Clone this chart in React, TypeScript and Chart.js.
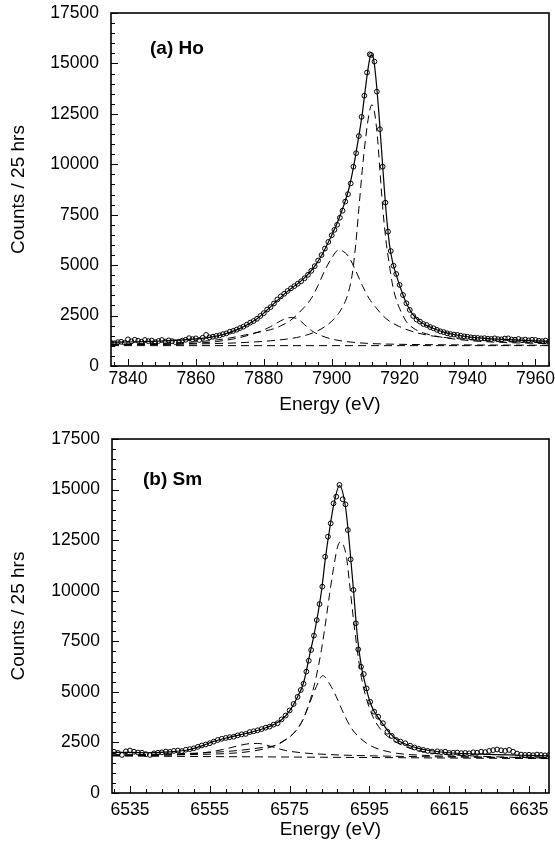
import React, { useEffect, useRef } from "react";
import { Chart, registerables } from "chart.js";

Chart.register(...registerables);

const FONT = '"Liberation Sans", Arial, Helvetica, sans-serif';

type Pt = [number, number];

// ---------- Panel (a) Ho ----------
const hoXTicks = [7840, 7860, 7880, 7900, 7920, 7940, 7960];
const yTicks = [0, 2500, 5000, 7500, 10000, 12500, 15000, 17500];

const hoData: Pt[] = [
  [7835, 1150], [7836, 1125], [7837, 1180], [7838, 1200], [7839, 1150], [7840, 1320],
  [7841, 1220], [7842, 1300], [7843, 1250], [7844, 1200], [7845, 1290], [7846, 1230],
  [7847, 1260], [7848, 1180], [7849, 1240], [7850, 1290], [7851, 1210], [7852, 1270],
  [7853, 1230], [7854, 1180], [7855, 1200], [7856, 1260], [7857, 1300], [7858, 1380],
  [7859, 1330], [7860, 1370], [7861, 1290], [7862, 1400], [7863, 1540], [7864, 1420],
  [7865, 1450], [7866, 1490], [7867, 1520], [7868, 1580], [7869, 1620], [7870, 1700],
  [7871, 1740], [7872, 1800], [7873, 1880], [7874, 1950], [7875, 2050], [7876, 2150],
  [7877, 2230], [7878, 2340], [7879, 2480], [7880, 2620], [7881, 2800], [7882, 2920],
  [7883, 3100], [7884, 3300], [7885, 3450], [7886, 3580], [7887, 3720], [7888, 3850],
  [7889, 3960], [7890, 4080], [7891, 4200], [7892, 4350], [7893, 4520], [7894, 4720],
  [7895, 4950], [7896, 5230], [7897, 5500], [7898, 5820], [7899, 6150], [7900, 6480],
  [7900.8, 6750], [7901.6, 7000], [7902.4, 7350], [7903.2, 7700], [7904, 8150],
  [7904.8, 8520], [7905.6, 9050], [7906.4, 9880], [7907.2, 10550], [7908, 11400],
  [7908.8, 12350], [7909.6, 13400], [7910.4, 14550], [7911.2, 15450], [7911.6, 15420],
  [7912.6, 15090], [7913.3, 13600], [7914.2, 11740], [7915, 9880], [7915.8, 8100],
  [7916.6, 6660], [7917.4, 5700], [7918.2, 4970], [7919, 4560], [7920, 4020],
  [7921, 3520], [7922, 3110], [7923, 2780], [7924, 2480], [7925, 2300], [7926, 2200],
  [7927, 2080], [7928, 2030], [7929, 1930], [7930, 1870], [7931, 1790], [7932, 1720],
  [7933, 1680], [7934, 1620], [7935, 1580], [7936, 1560], [7937, 1540], [7938, 1500],
  [7939, 1470], [7940, 1450], [7941, 1420], [7942, 1400], [7943, 1390], [7944, 1370],
  [7945, 1380], [7946, 1350], [7947, 1340], [7948, 1370], [7949, 1330], [7950, 1320],
  [7951, 1360], [7952, 1370], [7953, 1310], [7954, 1300], [7955, 1340], [7956, 1280],
  [7957, 1310], [7958, 1270], [7959, 1300], [7960, 1290], [7961, 1250], [7962, 1230],
  [7963, 1260], [7964, 1200],
];

const hoFit: Pt[] = [
  [7835, 1180], [7840, 1190], [7845, 1210], [7850, 1240], [7855, 1280], [7860, 1340],
  [7864, 1420], [7868, 1560], [7872, 1790], [7875, 2030], [7878, 2340], [7881, 2780],
  [7884, 3250], [7887, 3700], [7889, 3960], [7891, 4220], [7893, 4540], [7895, 4950],
  [7897, 5480], [7899, 6130], [7900, 6480], [7901, 6850], [7902, 7250], [7903, 7700],
  [7904, 8180], [7905, 8750], [7906, 9500], [7907, 10400], [7908, 11400], [7909, 12500],
  [7910, 13850], [7911, 15050], [7911.6, 15420], [7912.3, 15250], [7913, 14300],
  [7914, 12300], [7915, 9950], [7916, 7700], [7917, 6050], [7918, 5100], [7919, 4520],
  [7920, 4000], [7921, 3520], [7922, 3110], [7923, 2790], [7924, 2530], [7926, 2200],
  [7928, 2000], [7930, 1860], [7933, 1680], [7936, 1560], [7940, 1450], [7945, 1370],
  [7950, 1320], [7955, 1280], [7960, 1250], [7964, 1230],
];

const hoPeakA: Pt[] = [
  [7835, 1060], [7850, 1075], [7865, 1110], [7875, 1170], [7882, 1250], [7887, 1340],
  [7891, 1460], [7895, 1680], [7898, 1950], [7900, 2220], [7902, 2600], [7904, 3200],
  [7905, 3700], [7906, 4500], [7907, 5900], [7908, 7800], [7909, 9700], [7910, 11300],
  [7911, 12500], [7911.8, 12950], [7912.6, 12600], [7913.5, 11300], [7914.2, 9700],
  [7915, 7900], [7916, 6200], [7917, 5000], [7918, 3950], [7919, 3300], [7920, 2850],
  [7922, 2200], [7924, 1880], [7927, 1640], [7931, 1470], [7936, 1340], [7942, 1240],
  [7950, 1170], [7964, 1110],
];

const hoPeakB: Pt[] = [
  [7835, 1080], [7850, 1130], [7860, 1200], [7866, 1290], [7870, 1390], [7874, 1520],
  [7878, 1660], [7882, 1800], [7885, 1990], [7888, 2280], [7891, 2750], [7894, 3350],
  [7896, 4000], [7898, 4750], [7900, 5350], [7902, 5750], [7903, 5720], [7905, 5420],
  [7907, 4750], [7909, 4000], [7911, 3350], [7913, 2900], [7916, 2350], [7920, 1950],
  [7925, 1650], [7930, 1480], [7936, 1370], [7945, 1260], [7955, 1190], [7964, 1150],
];

const hoPeakC: Pt[] = [
  [7835, 1050], [7850, 1080], [7860, 1130], [7866, 1210], [7871, 1340], [7875, 1500],
  [7879, 1720], [7882, 1950], [7885, 2240], [7887.5, 2400], [7890, 2330], [7892, 2050],
  [7894, 1760], [7897, 1500], [7901, 1300], [7906, 1180], [7912, 1110], [7920, 1075],
  [7935, 1050], [7964, 1030],
];

const hoBackground: Pt[] = [[7835, 1010], [7964, 1010]];

// ---------- Panel (b) Sm ----------
const smXTicks = [6535, 6555, 6575, 6595, 6615, 6635];

const smData: Pt[] = [
  [6531, 2040], [6532, 1980], [6533, 1880], [6534, 2060], [6535, 2100], [6536, 2040],
  [6537, 2000], [6538, 1990], [6539, 1920], [6540, 1880], [6541, 1960], [6542, 1990],
  [6543, 2010], [6544, 2050], [6545, 2030], [6546, 2080], [6547, 2100], [6548, 2070],
  [6549, 2140], [6550, 2170], [6551, 2210], [6552, 2280], [6553, 2350], [6554, 2400],
  [6555, 2460], [6556, 2540], [6557, 2620], [6558, 2680], [6559, 2720], [6560, 2760],
  [6561, 2780], [6562, 2850], [6563, 2900], [6564, 2920], [6565, 3010], [6566, 3050],
  [6567, 3100], [6568, 3160], [6569, 3230], [6570, 3280], [6571, 3380], [6572, 3450],
  [6573, 3640], [6574, 3830], [6575, 4080], [6576, 4400], [6577, 4750], [6577.8, 5090],
  [6578.5, 5400], [6579.2, 6000], [6579.8, 6540], [6580.4, 7070], [6581.1, 7780],
  [6581.8, 8550], [6582.5, 9340], [6583.2, 10200], [6583.9, 11680], [6584.6, 12670],
  [6585.3, 13330], [6586, 14320], [6586.7, 14650], [6587.5, 15230], [6588.3, 14520],
  [6589, 14270], [6589.6, 13000], [6590.3, 11550], [6591, 10040], [6591.6, 8390],
  [6592.2, 7100], [6592.9, 6240], [6593.6, 5880], [6594.3, 5170], [6595.2, 4510],
  [6596.2, 4020], [6597.2, 3770], [6598.4, 3450], [6599.5, 3030], [6600.6, 2820],
  [6601.7, 2620], [6602.8, 2540], [6604, 2460], [6605.2, 2340], [6606.3, 2250],
  [6607.4, 2180], [6608.5, 2130], [6609.6, 2080], [6610.7, 2050], [6612, 2060],
  [6613, 2020], [6614, 2040], [6615, 1980], [6616, 1990], [6617, 2000], [6618, 1970],
  [6619, 1980], [6620, 1960], [6621, 2010], [6622, 1990], [6623, 2040], [6624, 2020],
  [6625, 2080], [6626, 2120], [6627, 2150], [6628, 2110], [6629, 2080], [6630, 2130],
  [6631, 2040], [6632, 1950], [6633, 1900], [6634, 1880], [6635, 1890], [6636, 1870],
  [6637, 1900], [6638, 1880], [6639, 1860], [6640, 1880],
];

const smFit: Pt[] = [
  [6530.5, 2010], [6535, 2010], [6540, 1990], [6545, 2030], [6550, 2150], [6553, 2330],
  [6556, 2550], [6560, 2760], [6564, 2940], [6568, 3150], [6571, 3380], [6573, 3620],
  [6575, 4060], [6577, 4760], [6578.5, 5450], [6580, 6800], [6581, 7700], [6582, 8750],
  [6583, 10000], [6584, 11650], [6585, 13000], [6586, 14200], [6587.5, 15200],
  [6589, 14150], [6590, 12300], [6591, 10050], [6592, 7700], [6593, 6250], [6594, 5350],
  [6595, 4600], [6596, 4100], [6597, 3790], [6598.5, 3380], [6600, 2980], [6602, 2620],
  [6604, 2420], [6607, 2220], [6610, 2100], [6615, 1990], [6620, 1940], [6625, 1910],
  [6630, 1880], [6635, 1860], [6640, 1840],
];

const smPeakA: Pt[] = [
  [6530.5, 1870], [6550, 1900], [6560, 1960], [6565, 2050], [6570, 2250], [6573, 2500],
  [6576, 2950], [6578, 3500], [6580, 4500], [6581.5, 5600], [6583, 7100], [6584, 8400],
  [6585, 9800], [6586, 11100], [6587, 12150], [6587.7, 12420], [6588.5, 12250],
  [6589.3, 11600], [6590, 10400], [6591, 8600], [6592, 7000], [6593, 5700],
  [6594.2, 4700], [6595.8, 3800], [6598, 3100], [6601, 2600], [6605, 2220],
  [6610, 1990], [6620, 1840], [6630, 1770], [6640, 1730],
];

const smPeakB: Pt[] = [
  [6530.5, 1880], [6545, 1930], [6555, 2000], [6562, 2100], [6566, 2190], [6569, 2270],
  [6571, 2330], [6573.3, 2560], [6576, 2950], [6578.3, 3600], [6580, 4430],
  [6581.7, 5260], [6583.3, 5800], [6585, 5400], [6586.7, 4760], [6588.5, 3950],
  [6590.5, 3200], [6592.5, 2750], [6595, 2370], [6598, 2130], [6602, 1960],
  [6610, 1850], [6625, 1770], [6640, 1730],
];

const smPeakC: Pt[] = [
  [6530.5, 1850], [6545, 1880], [6550, 1930], [6555, 2030], [6559, 2180], [6562, 2330],
  [6565, 2440], [6567, 2450], [6569, 2380], [6571, 2260], [6574, 2100], [6578, 1990],
  [6585, 1900], [6600, 1820], [6640, 1740],
];

const smBackground: Pt[] = [[6530.5, 1830], [6640, 1700]];

// ---------- chart building ----------
const toXY = (pts: Pt[]) => pts.map(([x, y]) => ({ x, y }));

const frameTicks = {
  id: "frameTicks",
  afterDraw(chart: any, _args: any, opts: any) {
    const { ctx, chartArea: a, scales } = chart;
    const xs = scales.x;
    const ys = scales.y;
    ctx.save();
    ctx.strokeStyle = "#000";
    ctx.lineWidth = 1;
    ctx.beginPath();
    for (let v = opts.xMinorStart; v <= xs.max; v += opts.xMinorStep) {
      const px = Math.round(xs.getPixelForValue(v)) + 0.5;
      const major = opts.xMajor.indexOf(v) >= 0;
      ctx.moveTo(px, a.bottom);
      ctx.lineTo(px, a.bottom - (major ? 7 : 4));
    }
    for (let v = 0; v <= ys.max; v += 500) {
      const py = Math.round(ys.getPixelForValue(v)) + 0.5;
      const major = v % 2500 === 0;
      ctx.moveTo(a.left, py);
      ctx.lineTo(a.left + (major ? 7 : 4), py);
    }
    ctx.stroke();
    ctx.lineWidth = 1.6;
    ctx.strokeRect(a.left, a.top, a.right - a.left, a.bottom - a.top);
    ctx.font = `bold 19px ${FONT}`;
    ctx.fillStyle = "#000";
    ctx.textAlign = "left";
    ctx.textBaseline = "middle";
    ctx.fillText(opts.label, a.left + opts.labelDx, a.top + opts.labelDy);
    ctx.restore();
  },
};

interface PanelCfg {
  data: Pt[];
  fit: Pt[];
  comps: Pt[][];
  xMin: number;
  xMax: number;
  xTicks: number[];
  xMinorStart: number;
  padTop: number;
  yWidth: number;
  xHeight: number;
  xTickPad: number;
  xTitlePad: number;
  label: string;
  labelDx: number;
  labelDy: number;
}

function buildChart(canvas: HTMLCanvasElement, cfg: PanelCfg) {
  const dashed = cfg.comps.map((c) => ({
    data: toXY(c),
    borderColor: "#000",
    borderWidth: 1,
    borderDash: [8, 5],
    pointRadius: 0,
    fill: false,
    cubicInterpolationMode: "monotone" as const,
  }));
  return new Chart(canvas, {
    type: "line",
    data: {
      datasets: [
        {
          data: toXY(cfg.data),
          showLine: false,
          pointRadius: 2.4,
          pointBorderWidth: 1,
          pointBorderColor: "#000",
          pointBackgroundColor: "rgba(255,255,255,0)",
          pointStyle: "circle",
        } as any,
        {
          data: toXY(cfg.fit),
          borderColor: "#000",
          borderWidth: 1.2,
          pointRadius: 0,
          fill: false,
          cubicInterpolationMode: "monotone",
        },
        ...dashed,
      ],
    },
    options: {
      animation: false,
      responsive: false,
      devicePixelRatio: 1,
      layout: { padding: { left: 0, right: 6, top: cfg.padTop, bottom: 0 } },
      plugins: {
        legend: { display: false },
        tooltip: { enabled: false },
        frameTicks: {
          xMinorStart: cfg.xMinorStart,
          xMinorStep: 4,
          xMajor: cfg.xTicks,
          label: cfg.label,
          labelDx: cfg.labelDx,
          labelDy: cfg.labelDy,
        },
      } as any,
      scales: {
        x: {
          type: "linear",
          min: cfg.xMin,
          max: cfg.xMax,
          grid: { display: false, drawTicks: false },
          border: { display: false },
          afterBuildTicks: (s: any) => {
            s.ticks = cfg.xTicks.map((v) => ({ value: v }));
          },
          afterFit: (s: any) => {
            s.height = cfg.xHeight;
            s.paddingLeft = 0;
            s.paddingRight = 0;
          },
          ticks: {
            padding: cfg.xTickPad,
            color: "#000",
            font: { family: FONT, size: 17.5 },
            maxRotation: 0,
            autoSkip: false,
            callback: (v: any) => String(v),
          },
          title: {
            display: true,
            text: "Energy (eV)",
            color: "#000",
            font: { family: FONT, size: 19 },
            padding: { top: 0, bottom: cfg.xTitlePad },
          },
        },
        y: {
          type: "linear",
          min: 0,
          max: 17500,
          grid: { display: false, drawTicks: false },
          border: { display: false },
          afterBuildTicks: (s: any) => {
            s.ticks = yTicks.map((v) => ({ value: v }));
          },
          afterFit: (s: any) => {
            s.width = cfg.yWidth;
            s.paddingTop = 0;
            s.paddingBottom = 0;
          },
          ticks: {
            padding: 12,
            color: "#000",
            font: { family: FONT, size: 17.5 },
            autoSkip: false,
            callback: (v: any) => String(v),
          },
          title: {
            display: true,
            text: "Counts / 25 hrs",
            color: "#000",
            font: { family: FONT, size: 19 },
            padding: { top: 7, bottom: 0 },
          },
        },
      },
    } as any,
    plugins: [frameTicks as any],
  });
}

const topCfg: PanelCfg = {
  data: hoData,
  fit: hoFit,
  comps: [hoPeakA, hoPeakB, hoPeakC, hoBackground],
  xMin: 7835,
  xMax: 7964,
  xTicks: hoXTicks,
  xMinorStart: 7836,
  padTop: 13,
  yWidth: 111,
  xHeight: 58,
  xTickPad: 3,
  xTitlePad: 7.6,
  label: "(a) Ho",
  labelDx: 39,
  labelDy: 36,
};

const bottomCfg: PanelCfg = {
  data: smData,
  fit: smFit,
  comps: [smPeakA, smPeakB, smPeakC, smBackground],
  xMin: 6530.5,
  xMax: 6640,
  xTicks: smXTicks,
  xMinorStart: 6531,
  padTop: 15,
  yWidth: 112,
  xHeight: 55,
  xTickPad: 6.5,
  xTitlePad: 6.6,
  label: "(b) Sm",
  labelDx: 31,
  labelDy: 41,
};

export default function App() {
  const topRef = useRef<HTMLCanvasElement>(null);
  const botRef = useRef<HTMLCanvasElement>(null);

  useEffect(() => {
    const c1 = buildChart(topRef.current!, topCfg);
    const c2 = buildChart(botRef.current!, bottomCfg);
    return () => {
      c1.destroy();
      c2.destroy();
    };
  }, []);

  return (
    <div
      style={{
        position: "fixed",
        left: 0,
        top: 0,
        width: 555,
        height: 848,
        background: "#fff",
      }}
    >
      <canvas
        ref={topRef}
        width={555}
        height={424}
        style={{ position: "absolute", left: 0, top: 0, width: 555, height: 424, display: "block" }}
      />
      <canvas
        ref={botRef}
        width={555}
        height={424}
        style={{ position: "absolute", left: 0, top: 424, width: 555, height: 424, display: "block" }}
      />
    </div>
  );
}
